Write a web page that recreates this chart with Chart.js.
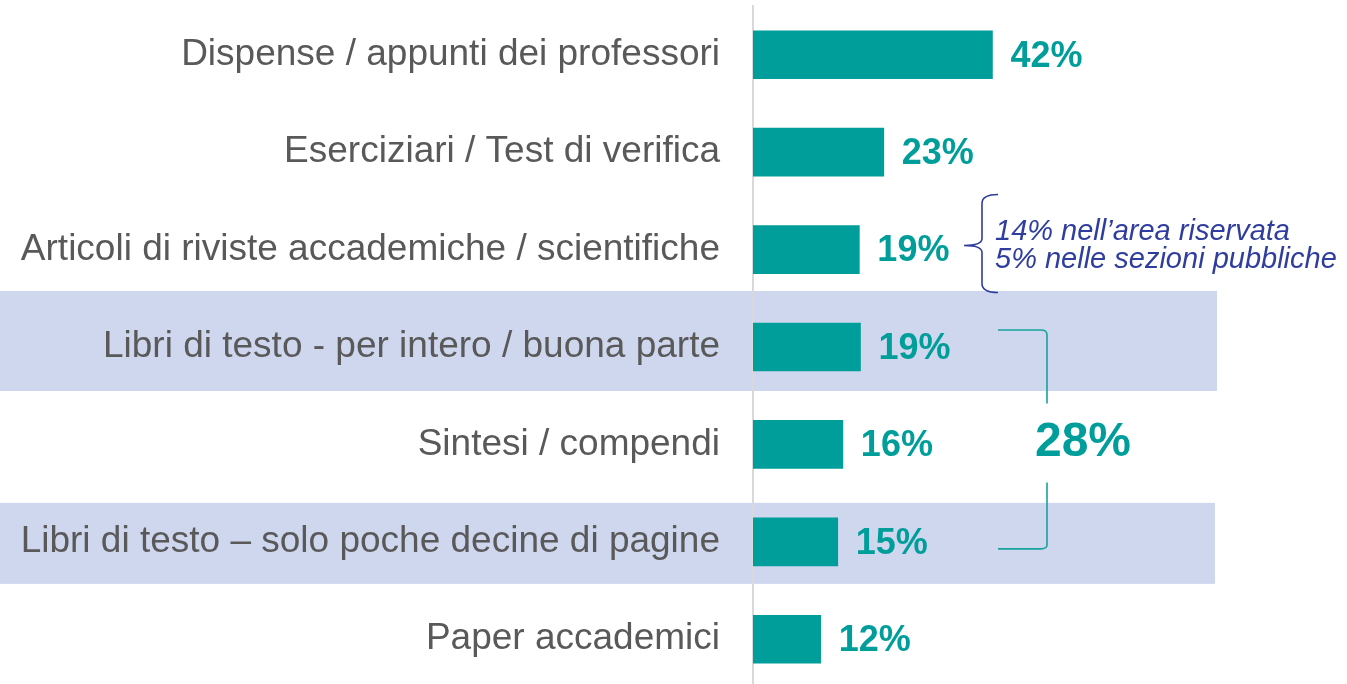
<!DOCTYPE html>
<html lang="it">
<head>
    <meta charset="UTF-8">
    <title>Materiali condivisi</title>
    <script src="https://cdn.jsdelivr.net/npm/chart.js@4"></script>
    <style>
        html, body {
            margin: 0;
            padding: 0;
            background: #ffffff;
            overflow: hidden;
        }
        #wrap {
            width: 1347px;
            height: 684px;
            overflow: hidden;
        }
    </style>
</head>
<body>
<div id="wrap">
    <canvas id="chart" width="1347" height="688"></canvas>
</div>
<script>
    // data
    const categories = [
        'Dispense / appunti dei professori',
        'Eserciziari / Test di verifica',
        'Articoli di riviste accademiche / scientifiche',
        'Libri di testo - per intero / buona parte',
        'Sintesi / compendi',
        'Libri di testo \u2013 solo poche decine di pagine',
        'Paper accademici'
    ];
    const shares = [42.1, 23.0, 18.7, 18.9, 15.8, 14.9, 11.9];
    const highlightedRows = [3, 5];
    const splitRow = 2;
    const splitLines = ['14% nell\u2019area riservata', '5% nelle sezioni pubbliche'];
    const groupRows = [3, 5];
    const groupTotal = '28%';

    const TEAL = '#009E9A';
    const GREY = '#595959';
    const BLUE = '#2F3E9E';
    const BAND = '#CFD7EF';
    const FONT = '"Liberation Sans", Arial, Helvetica, sans-serif';

    // light blue bands behind some rows
    const bandsPlugin = {
        id: 'bands',
        beforeDraw(chart) {
            const ctx = chart.ctx;
            const y = chart.scales.y;
            const ext = { 3: [56, 44, 1217], 5: [39, 42, 1215] };
            ctx.save();
            ctx.fillStyle = BAND;
            highlightedRows.forEach(i => {
                const c = y.getPixelForValue(i);
                const e = ext[i] || [48, 48, 1217];
                ctx.fillRect(0, c - e[0], e[2], e[0] + e[1]);
            });
            ctx.restore();
        }
    };

    // percentage next to each bar
    const valueLabels = {
        id: 'valueLabels',
        afterDatasetsDraw(chart) {
            const ctx = chart.ctx;
            const meta = chart.getDatasetMeta(0);
            ctx.save();
            ctx.font = 'bold 36px ' + FONT;
            ctx.fillStyle = TEAL;
            ctx.textAlign = 'left';
            ctx.textBaseline = 'middle';
            meta.data.forEach((bar, i) => {
                ctx.fillText(Math.round(shares[i]) + '%', bar.x + 18, bar.y + 2);
            });
            ctx.restore();
        }
    };

    // brace with the split note, and the bracket with the total
    const notes = {
        id: 'notes',
        afterDraw(chart) {
            const ctx = chart.ctx;
            const y = chart.scales.y;
            const left = chart.chartArea.left;

            // curly brace
            const c = y.getPixelForValue(splitRow);
            const bx = left + 229, tipX = left + 211, hookX = left + 245;
            const top = c - 55, bottom = c + 43, tipY = c - 4;
            ctx.save();
            ctx.strokeStyle = BLUE;
            ctx.lineWidth = 1.6;
            ctx.beginPath();
            ctx.moveTo(hookX, top);
            ctx.quadraticCurveTo(bx, top, bx, top + 9);
            ctx.lineTo(bx, tipY - 7);
            ctx.quadraticCurveTo(bx, tipY, tipX, tipY);
            ctx.quadraticCurveTo(bx, tipY, bx, tipY + 7);
            ctx.lineTo(bx, bottom - 9);
            ctx.quadraticCurveTo(bx, bottom, hookX, bottom);
            ctx.stroke();

            ctx.font = 'italic 29px ' + FONT;
            ctx.fillStyle = BLUE;
            ctx.textAlign = 'left';
            ctx.textBaseline = 'alphabetic';
            ctx.fillText(splitLines[0], left + 242, c - 10);
            ctx.fillText(splitLines[1], left + 242, c + 18);
            ctx.restore();

            // bracket joining the two textbook rows
            const yTop = y.getPixelForValue(groupRows[0]) - 17;
            const yBot = y.getPixelForValue(groupRows[1]) + 7;
            const x0 = left + 245, x1 = left + 294;
            const mid = (yTop + yBot) / 2;
            ctx.save();
            ctx.strokeStyle = '#1AA29D';
            ctx.lineWidth = 1.6;
            ctx.beginPath();
            ctx.moveTo(x0, yTop);
            ctx.lineTo(x1 - 6, yTop);
            ctx.quadraticCurveTo(x1, yTop, x1, yTop + 5);
            ctx.lineTo(x1, mid - 36);
            ctx.moveTo(x1, mid + 43);
            ctx.lineTo(x1, yBot - 4);
            ctx.quadraticCurveTo(x1, yBot, x1 - 6, yBot);
            ctx.lineTo(x0, yBot);
            ctx.stroke();

            ctx.font = 'bold 48px ' + FONT;
            ctx.fillStyle = TEAL;
            ctx.textAlign = 'center';
            ctx.textBaseline = 'middle';
            ctx.fillText(groupTotal, left + 330, mid + 3);
            ctx.restore();
        }
    };

    const ctx = document.getElementById('chart').getContext('2d');
    const chart = new Chart(ctx, {
        type: 'bar',
        data: {
            labels: categories,
            datasets: [{
                data: shares,
                backgroundColor: TEAL,
                borderWidth: 0,
                barThickness: 48
            }]
        },
        options: {
            indexAxis: 'y',
            responsive: false,
            animation: false,
            devicePixelRatio: 1,
            layout: {
                padding: { top: 6, right: 139, bottom: 0, left: 0 }
            },
            plugins: {
                legend: { display: false },
                tooltip: { enabled: false }
            },
            scales: {
                x: {
                    display: false,
                    min: 0,
                    max: 80
                },
                y: {
                    afterFit(scale) {
                        scale.width = 753;
                        scale.paddingTop = 0;
                        scale.paddingBottom = 0;
                    },
                    grid: { display: false, drawTicks: false },
                    border: { display: true, color: '#D9D9D9', width: 2 },
                    ticks: {
                        autoSkip: false,
                        padding: 33,
                        color: GREY,
                        font: { family: FONT, size: 37 }
                    }
                }
            }
        },
        plugins: [bandsPlugin, valueLabels, notes]
    });
</script>
</body>
</html>
